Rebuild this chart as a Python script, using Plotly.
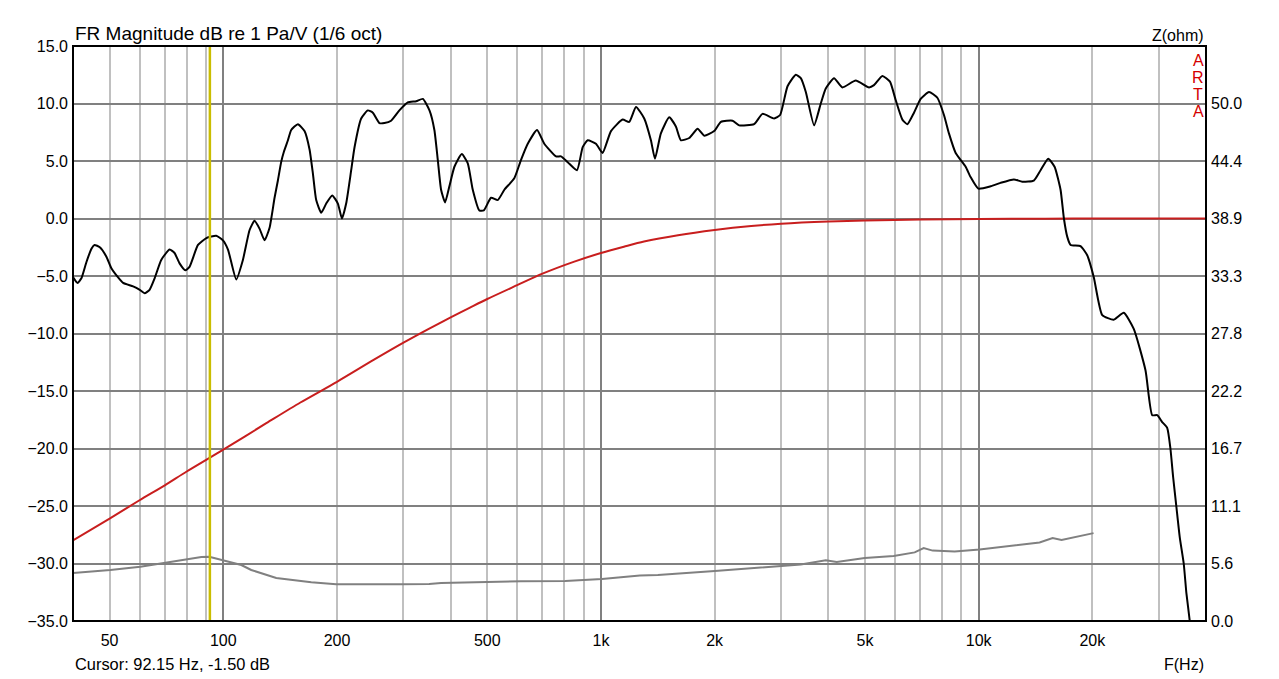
import math
import plotly.graph_objects as go

# ---------------- data ----------------
fr_freq = [40, 41.1, 42.1, 43.4, 44.8, 45.6, 47.1, 49.0, 50.5, 52.6,
           54.3, 57.7, 60.1, 61.9, 63.8, 65.8, 68.5, 72.1, 74.3, 76.6,
           79.3, 81.4, 85.7, 90.2, 95.8, 99.8, 102.9, 108.2, 112.7, 117.4,
           121.0, 124.8, 128.6, 132.6, 136.7, 139.5, 142.3, 144.7, 148.3, 151.3,
           157.6, 164.1, 169.2, 172.7, 176.2, 181.7, 187.3, 194.3, 201.1, 206.1,
           211.5, 218.1, 222.6, 231.8, 241.4, 248.9, 259.1, 267.1, 278.2, 292.6,
           308.0, 324.1, 337.6, 351.5, 362.2, 369.8, 377.3, 386.6, 396.9, 409.2,
           428.1, 444.0, 457.7, 476.4, 489.4, 511.7, 533.0, 554.9, 589.6, 614.3,
           640.0, 677.3, 707.9, 760.3, 783.8, 816.4, 864.0, 894.6, 922.2, 970.0,
           1010, 1063, 1141, 1188, 1238, 1302, 1356, 1390, 1441, 1516,
           1579, 1628, 1713, 1803, 1877, 1994, 2078, 2231, 2322, 2544,
           2678, 2874, 2981, 3119, 3281, 3382, 3487, 3667, 3820, 3938,
           4142, 4359, 4727, 5126, 5284, 5561, 5825, 6031, 6282, 6477,
           6743, 7024, 7389, 7776, 8095, 8345, 8694, 9240, 9524, 9981,
           10760, 11430, 12400, 13050, 14000, 14590, 15290, 15890, 16480, 16820,
           17170, 17520, 18610, 19390, 20180, 21250, 22800, 24230, 25750, 27660,
           28810, 29710, 30620, 31570, 32200, 32740, 33400, 34080, 34920, 35500,
           36230, 36800]
fr_db = [-5.1, -5.6, -5.2, -3.8, -2.6, -2.3, -2.5, -3.3, -4.3, -5.1,
         -5.6, -5.9, -6.2, -6.5, -6.2, -5.2, -3.6, -2.7, -3.0, -3.9,
         -4.5, -4.2, -2.3, -1.7, -1.5, -1.9, -2.7, -5.3, -3.6, -1.0,
         -0.2, -0.9, -1.9, -0.8, 1.8, 3.3, 4.9, 5.8, 6.8, 7.7,
         8.2, 7.6, 6.0, 3.9, 1.6, 0.5, 1.3, 2.0, 1.3, 0.0,
         1.3, 4.2, 6.2, 8.7, 9.4, 9.2, 8.3, 8.3, 8.5, 9.4,
         10.1, 10.2, 10.4, 9.4, 7.7, 5.1, 2.5, 1.4, 2.8, 4.5,
         5.6, 4.8, 2.5, 0.7, 0.7, 1.8, 1.6, 2.5, 3.5, 5.1,
         6.5, 7.7, 6.5, 5.4, 5.4, 4.9, 4.2, 6.2, 6.8, 6.5,
         5.7, 7.6, 8.6, 8.4, 9.7, 8.7, 6.8, 5.2, 7.4, 8.8,
         8.0, 6.8, 7.0, 7.8, 7.2, 7.6, 8.4, 8.5, 8.1, 8.2,
         9.1, 8.7, 9.0, 11.5, 12.5, 12.2, 11.0, 8.1, 10.0, 11.3,
         12.2, 11.4, 12.0, 11.4, 11.6, 12.4, 11.9, 10.3, 8.6, 8.2,
         9.2, 10.4, 11.0, 10.5, 9.0, 7.4, 5.7, 4.5, 3.6, 2.6,
         2.8, 3.1, 3.4, 3.2, 3.3, 4.2, 5.2, 4.5, 2.5, 0.0,
         -1.6, -2.3, -2.4, -3.2, -5.1, -8.4, -8.8, -8.2, -9.6, -13.2,
         -17.1, -17.1, -17.7, -18.2, -20.0, -22.5, -25.1, -27.7, -30.0, -32.6,
         -35.0, -37.5]

hp_freq = [40, 50, 60, 70, 80, 100, 130, 160, 200, 250,
           300, 350, 400, 450, 500, 600, 700, 850, 1000, 1150,
           1300, 1600, 2000, 2500, 3000, 4000, 5000, 7000, 10000, 15000,
           20000, 40000]
hp_db = [-28.0, -26.1, -24.5, -23.2, -22.0, -20.1, -17.8, -16.0, -14.2, -12.3,
         -10.8, -9.6, -8.6, -7.75, -7.0, -5.8, -4.8, -3.75, -3.0, -2.45,
         -2.0, -1.45, -1.0, -0.65, -0.45, -0.26, -0.17, -0.09, -0.04, -0.02,
         0.0, 0.0]

z_freq = [40, 50.2, 60.3, 70.2, 80.3, 87.5, 91.8, 100.6, 111.6, 118.6,
          138.1, 171.0, 199.0, 295.8, 350.8, 377.3, 511.7, 614.3, 804.3, 907.4,
          1006, 1268, 1415, 2003, 2975, 3382, 3938, 4210, 4994, 5958,
          6771, 7153, 7556, 8640, 10060, 12450, 14500, 15700, 16580, 20150]
z_ohm = [4.64, 4.93, 5.25, 5.63, 5.96, 6.18, 6.21, 5.83, 5.41, 4.93,
         4.15, 3.74, 3.55, 3.55, 3.57, 3.66, 3.77, 3.84, 3.86, 3.97,
         4.07, 4.40, 4.45, 4.83, 5.35, 5.45, 5.86, 5.69, 6.08, 6.28,
         6.63, 7.04, 6.80, 6.72, 6.90, 7.31, 7.59, 8.01, 7.84, 8.49]

cursor_freq = 92.15
cursor_db = -1.50

x_tick_vals = [50, 100, 200, 500, 1000, 2000, 5000, 10000, 20000]
x_tick_text = ["50", "100", "200", "500", "1k", "2k", "5k", "10k", "20k"]
x_decades = [100, 1000, 10000]
x_minor = [m * d for d in (10, 100, 1000, 10000) for m in range(2, 10)
           if 40 <= m * d <= 40000]

f_min, f_max = 40, 40000
db_min, db_max = -35, 15
z_max = 55.5556
z_tick_vals = [i * z_max / 10 for i in range(10)]
arta_letters = ["A", "R", "T", "A"]

FONT = "Liberation Sans, Arial, sans-serif"
LIGHT = "#c0c0c0"
DARK = "#808080"
x_range = [math.log10(f_min), math.log10(f_max)]

fig = go.Figure()

fig.add_trace(go.Scatter(x=z_freq, y=z_ohm, yaxis="y2", mode="lines",
                         line=dict(color="#808080", width=2), hoverinfo="skip"))
fig.add_trace(go.Scatter(x=hp_freq, y=hp_db, mode="lines",
                         line=dict(color="#c81e1e", width=2, shape="spline", smoothing=0.8),
                         hoverinfo="skip"))
fig.add_trace(go.Scatter(x=fr_freq, y=fr_db, mode="lines",
                         line=dict(color="#000000", width=2, shape="spline", smoothing=0.5),
                         hoverinfo="skip"))
fig.add_trace(go.Scatter(x=[cursor_freq, cursor_freq], y=[db_min, db_max], mode="lines",
                         xaxis="x2", line=dict(color="#cabd00", width=2.5), hoverinfo="skip"))

annotations = [
    dict(text="FR Magnitude dB re 1 Pa/V (1/6 oct)", xref="paper", yref="paper",
         x=0, y=1, xanchor="left", yanchor="middle", xshift=0, yshift=13,
         showarrow=False, font=dict(size=19)),
    dict(text="Z(ohm)", xref="paper", yref="paper", x=1, y=1,
         xanchor="right", yanchor="middle", yshift=11, showarrow=False,
         font=dict(size=16)),
    dict(text=f"Cursor: {cursor_freq:.2f} Hz, {cursor_db:.2f} dB", xref="paper", yref="paper",
         x=0, y=0, xanchor="left", yanchor="middle", yshift=-43, showarrow=False,
         font=dict(size=16.4)),
    dict(text="F(Hz)", xref="paper", yref="paper", x=1, y=0,
         xanchor="right", yanchor="middle", yshift=-43, showarrow=False,
         font=dict(size=16)),
]
for i, ch in enumerate(arta_letters):
    annotations.append(dict(text=ch, xref="paper", yref="paper", x=1, y=1,
                            xanchor="center", yanchor="middle", xshift=-8,
                            yshift=-14 - 17 * i, showarrow=False,
                            font=dict(size=16, color="#d40000")))

fig.update_layout(
    width=1279, height=679,
    margin=dict(l=73, r=73, t=46, b=58),
    paper_bgcolor="white", plot_bgcolor="white",
    showlegend=False,
    font=dict(family=FONT, size=16, color="black"),
    xaxis=dict(type="log", range=x_range,
               tickmode="array", tickvals=x_tick_vals, ticktext=x_tick_text,
               showgrid=False, zeroline=False, showline=False, ticks="",
               ticklabelstandoff=8,
               minor=dict(tickmode="array", tickvals=x_minor, showgrid=True,
                          gridcolor=LIGHT, gridwidth=2, ticks="")),
    xaxis2=dict(type="log", range=x_range, overlaying="x", side="bottom",
                tickmode="array", tickvals=x_decades, showticklabels=False,
                showgrid=True, gridcolor=DARK, gridwidth=2, zeroline=False,
                showline=False, ticks=""),
    yaxis=dict(range=[db_min, db_max], dtick=5, tick0=0, tickformat=".1f",
               showgrid=True, gridcolor=DARK, gridwidth=2, zeroline=False,
               showline=False, ticks="", ticklabelstandoff=4),
    yaxis2=dict(range=[0, z_max], overlaying="y", side="right",
                tickmode="array", tickvals=z_tick_vals, tickformat=".1f",
                showgrid=False, zeroline=False, showline=False, ticks="",
                ticklabelstandoff=4),
    shapes=[dict(type="rect", xref="paper", yref="paper", x0=0, x1=1, y0=0, y1=1,
                 line=dict(color="black", width=2), layer="above")],
    annotations=annotations,
)

fig.write_html("out.html")
